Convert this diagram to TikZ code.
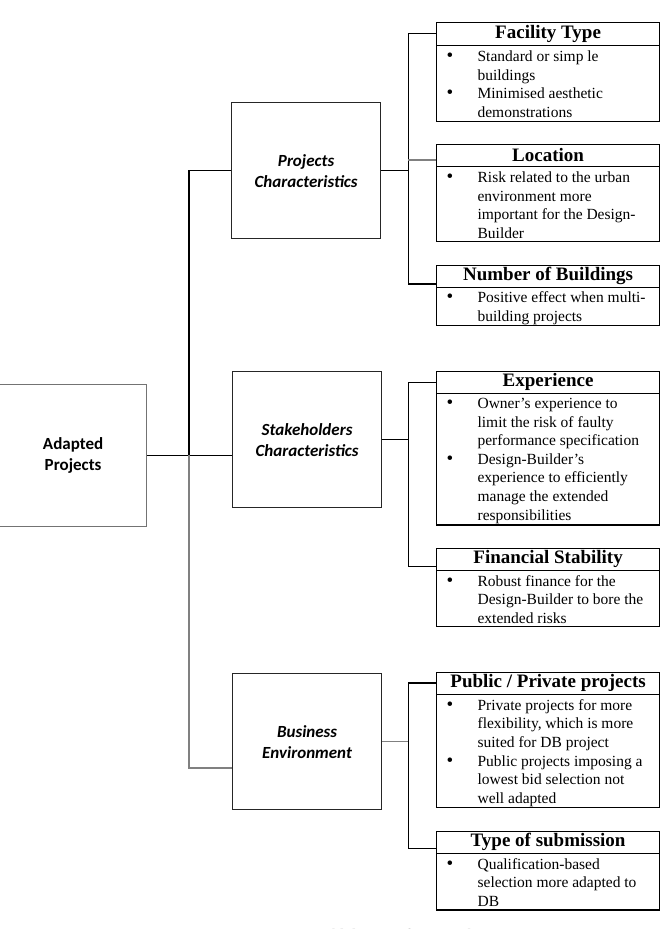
\documentclass[tikz,border=0pt]{standalone}
\usepackage{fontspec}
\setmainfont{Liberation Serif}
\newfontfamily\calibrifont{Carlito}
\usetikzlibrary{calc}
\tikzset{
 lbox/.style={draw=black!55, line width=1.2pt, minimum width=147pt, minimum height=142pt, inner sep=0pt, anchor=north west, align=center, font=\calibrifont\bfseries\fontsize{17}{21}\selectfont},
 mbox/.style={draw=black!85, line width=1.2pt, minimum width=149pt, minimum height=136pt, inner sep=0pt, anchor=north west, align=center, font=\calibrifont\bfseries\itshape\fontsize{17}{21}\selectfont},
 rbox/.style={draw=black, line width=1.2pt, minimum width=223pt, inner sep=0pt, anchor=north west},
 hdr/.style={minimum width=223pt, minimum height=22pt, inner sep=0pt, anchor=north, font=\bfseries\fontsize{19}{22}\selectfont},
 body/.style={inner sep=0pt, anchor=north west, align=left, font=\fontsize{15.5}{18.6}\selectfont},
 conn/.style={line width=1.2pt, draw=black},
 gconn/.style={line width=1.2pt, draw=black!50},
 rule/.style={line width=1.2pt, draw=black},
}
\newcommand{\bodytab}[1]{\begin{tabular}{@{}p{31pt}@{}l@{}}#1\end{tabular}}
\newcommand{\bul}{{\fontsize{19}{18.6}\selectfont\textbullet}}
\begin{document}
\begin{tikzpicture}[x=1pt,y=-1pt]
\useasboundingbox (0,0) rectangle (666,929);

% left and middle boxes
\node[lbox] (ap) at (-1,384) {Adapted\\Projects};
\node[mbox] (pc) at (231,102) {Projects\\Characteristics};
\node[mbox] (sc) at (232,371) {Stakeholders\\Characteristics};
\node[mbox] (be) at (232,673) {Business\\Environment};

% Facility Type
\node[rbox, minimum height=98.7pt] (ft) at (436,22) {};
\node[hdr, minimum height=23pt] (ftH) at (ft.north) {Facility Type};
\draw[rule] (ftH.south west) -- (ftH.south east);
\node[body] (ftB) at ($(ftH.south west)+(10,3)$) {\bodytab{\bul & Standard or simp le\\ & buildings\\ \bul & Minimised aesthetic\\ & demonstrations}};

% Location
\node[rbox, minimum height=96.7pt] (loc) at (436,144) {};
\node[hdr] (locH) at (loc.north) {Location};
\draw[rule] (locH.south west) -- (locH.south east);
\node[body] (locB) at ($(locH.south west)+(10,3)$) {\bodytab{\bul & Risk related to the urban\\ & environment more\\ & important for the Design-\\ & Builder}};

% Number of Buildings
\node[rbox, minimum height=60pt] (nb) at (436,265) {};
\node[hdr] (nbH) at (nb.north) {Number of Buildings};
\draw[rule] (nbH.south west) -- (nbH.south east);
\node[body] (nbB) at ($(nbH.south west)+(10,2)$) {\bodytab{\bul & Positive effect when multi-\\ & building projects}};

% Experience
\node[rbox, minimum height=153.6pt] (ex) at (436,370.7) {};
\node[hdr, minimum height=22.6pt] (exH) at (ex.north) {Experience};
\draw[rule] (exH.south west) -- (exH.south east);
\node[body] (exB) at ($(exH.south west)+(10,1.5)$) {\bodytab{\bul & Owner's experience to\\ & limit the risk of faulty\\ & performance specification\\ \bul & Design-Builder's\\ & experience to efficiently\\ & manage the extended\\ & responsibilities}};

% Financial Stability
\node[rbox, minimum height=78pt] (fs) at (436,547.7) {};
\node[hdr] (fsH) at (fs.north) {Financial Stability};
\draw[rule] (fsH.south west) -- (fsH.south east);
\node[body] (fsB) at ($(fsH.south west)+(10,3)$) {\bodytab{\bul & Robust finance for the\\ & Design-Builder to bore the\\ & extended risks}};

% Public / Private projects
\node[rbox, minimum height=135pt] (pp) at (436,671.7) {};
\node[hdr] (ppH) at (pp.north) {Public / Private projects};
\draw[rule] (ppH.south west) -- (ppH.south east);
\node[body] (ppB) at ($(ppH.south west)+(10,3)$) {\bodytab{\bul & Private projects for more\\ & flexibility, which is more\\ & suited for DB project\\ \bul & Public projects imposing a\\ & lowest bid selection not\\ & well adapted}};

% Type of submission
\node[rbox, minimum height=78.6pt] (ts) at (436,830.7) {};
\node[hdr] (tsH) at (ts.north) {Type of submission};
\draw[rule] (tsH.south west) -- (tsH.south east);
\node[body] (tsB) at ($(tsH.south west)+(10,3)$) {\bodytab{\bul & Qualification-based\\ & selection more adapted to\\ & DB}};

% coordinates for connector ends
\coordinate (j1) at (189,455);
\coordinate (beIn) at (232,768);
\coordinate (locIn) at (436,160);
\coordinate (nbIn) at (436,284);
\coordinate (fsIn) at (436,566.7);
\coordinate (tsIn) at (436,848.3);

% left connectors
\draw[conn] (ap.east) -- (ap.east -| sc.west);
\draw[conn] (pc.west) -| (j1);
\draw[gconn] (j1) |- (beIn);

% right connectors
\draw[conn] (pc.east) -- ++(28,0);
\draw[conn] (ftH.west) -- ++(-28,0) |- (nbIn);
\draw[gconn] (locIn) -- ++(-28,0);
\draw[conn] (sc.east) -- ++(27,0);
\draw[conn] (exH.west) -- ++(-28,0) |- (fsIn);
\draw[gconn] (be.east) -- ++(27,0);
\draw[conn] (ppH.west) -- ++(-28,0) |- (tsIn);

% caption (cut by the page edge, as in the source)
\node[anchor=base, font=\itshape\fontsize{16}{19}\selectfont, text=black!60] (cap) at (333,940) {Figure 3: Design-Build decision framework};
\end{tikzpicture}
\end{document}
